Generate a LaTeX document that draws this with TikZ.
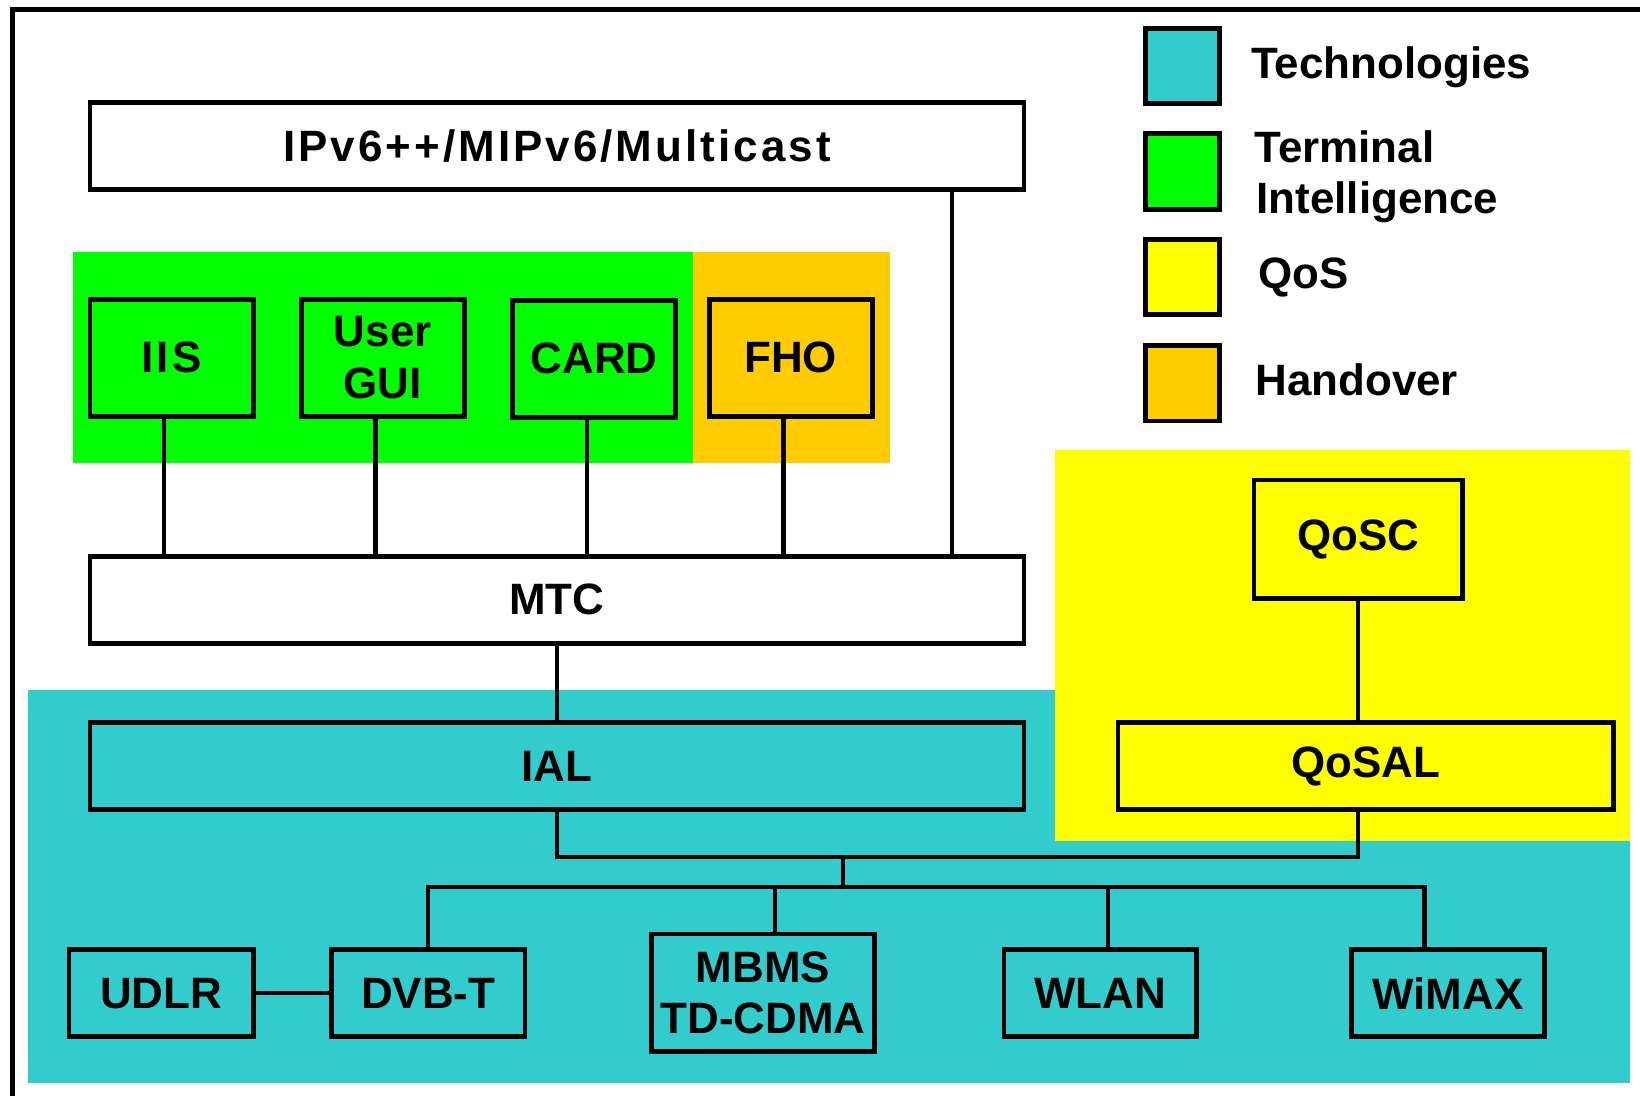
\documentclass[tikz,border=0pt]{standalone}
\usepackage{fontspec}
\setmainfont{Liberation Sans}
\newfontfamily\spacedfont[LetterSpace=7]{Liberation Sans}
\definecolor{techcyan}{HTML}{33CCCC}
\definecolor{termgreen}{HTML}{00FF00}
\definecolor{qosyellow}{HTML}{FFFF00}
\definecolor{hoorange}{HTML}{FFCC00}

\begin{document}
\begin{tikzpicture}[x=0.02cm, y=-0.02cm,
  lbl/.style={font=\fontsize{23.9}{27.9}\selectfont\bfseries},
  sz/.style 2 args={minimum width=#1*0.02cm, minimum height=#2*0.02cm},
  box/.style={draw, line width=2.6pt, inner sep=0pt, lbl, align=center},
  keybox/.style={draw, line width=2.6pt, inner sep=0pt, sz={71}{72}},
  keytext/.style={lbl, anchor=base west, inner sep=0pt, align=left},
  link/.style={line width=2.3pt}]
\useasboundingbox (0,0) rectangle (1568,1047);
\clip (0,0) rectangle (1568,1047);
\fill[white] (0,0) rectangle (1568,1047);

% outer frame (left and top edges)
\draw[line width=2.7pt] (12,1070) -- (12,9) -- (1590,9);

% coloured areas
\fill[termgreen] (70,241) rectangle (663,443);
\fill[hoorange] (663,241) rectangle (851,443);
\fill[techcyan] (27,660) rectangle (1558,1035);
\fill[qosyellow] (1009,430) rectangle (1558,804);

% protocol stack
\node[box, fill=white, sz={893}{83}] (ipv6) at (532.5,139.5) {\spacedfont\bfseries IPv6++/MIPv6/Multicast};
\node[box, fill=termgreen, sz={156}{112}] (iis) at (164,342) {\spacedfont\bfseries IIS};
\node[box, fill=termgreen, sz={156}{112}] (gui) at (366,342) {User\\GUI};
\node[box, fill=termgreen, sz={156}{112}] (card) at (568,343) {CARD};
\node[box, fill=hoorange, sz={156}{112}] (fho) at (756,342) {FHO};
\node[box, fill=white, sz={893}{83}] (mtc) at (532.5,573.5) {MTC};
\node[box, fill=techcyan, sz={893}{83}] (ial) at (532.5,732.5) {IAL};
\node[box, fill=qosyellow, sz={199}{113}] (qosc) at (1298.5,515.5) {QoSC};
\node[box, fill=qosyellow, sz={474}{83}] (qosal) at (1306,732.5) {QoSAL};

% access technologies
\node[box, fill=techcyan, sz={176}{83}] (udlr) at (154,949.5) {UDLR};
\node[box, fill=techcyan, sz={185}{83}] (dvbt) at (409.5,949.5) {DVB-T};
\node[box, fill=techcyan, sz={213}{112}] (mbms) at (729.5,949) {MBMS\\TD-CDMA};
\node[box, fill=techcyan, sz={184}{83}] (wlan) at (1052,949.5) {WLAN};
\node[box, fill=techcyan, sz={185}{83}] (wimax) at (1384.5,949.5) {WiMAX};

% bus junctions
\coordinate (join) at (806,819);
\coordinate (bus) at (806,848);

% connectors
\draw[link] ([xshift=-0.14cm]iis.south) -- ([xshift=-0.14cm]iis.south |- mtc.north);
\draw[link] ([xshift=-0.14cm]gui.south) -- ([xshift=-0.14cm]gui.south |- mtc.north);
\draw[link] ([xshift=-0.14cm]card.south) -- ([xshift=-0.14cm]card.south |- mtc.north);
\draw[link] ([xshift=-0.14cm]fho.south) -- ([xshift=-0.14cm]fho.south |- mtc.north);
\draw[link] ([xshift=-1.42cm]ipv6.south east) -- ([xshift=-1.42cm]ipv6.south east |- mtc.north);
\draw[link] (mtc.south) -- (ial.north);
\draw[link] (qosc.south) -- (qosc.south |- qosal.north);
\draw[link] (ial.south) |- (join) -| (qosc.south |- qosal.south);
\draw[link] (join) -- (bus);
\draw[link] (dvbt.north) |- (bus) -| ([xshift=-0.45cm]wimax.north);
\draw[link] ([xshift=0.23cm]mbms.north) -- ([xshift=0.23cm]mbms.north |- bus);
\draw[link] ([xshift=0.14cm]wlan.north) -- ([xshift=0.14cm]wlan.north |- bus);
\draw[link] (udlr.east) -- (dvbt.west);

% key
\node[keybox, fill=techcyan] (ktech) at (1130.5,63) {};
\node[keybox, fill=termgreen] (kterm) at (1130.5,164) {};
\node[keybox, fill=qosyellow] (kqos) at (1130.5,265) {};
\node[keybox, fill=hoorange] (kho) at (1130.5,366.5) {};
\node[keytext] (ttech) at (1196,75.5) {Technologies};
\node[keytext] (tterm) at (1199,155.5) {Terminal};
\node[keytext] (tintel) at (1201,204) {Intelligence};
\node[keytext] (tqos) at (1203,275.6) {QoS};
\node[keytext] (tho) at (1200,377.7) {Handover};
\end{tikzpicture}
\end{document}
